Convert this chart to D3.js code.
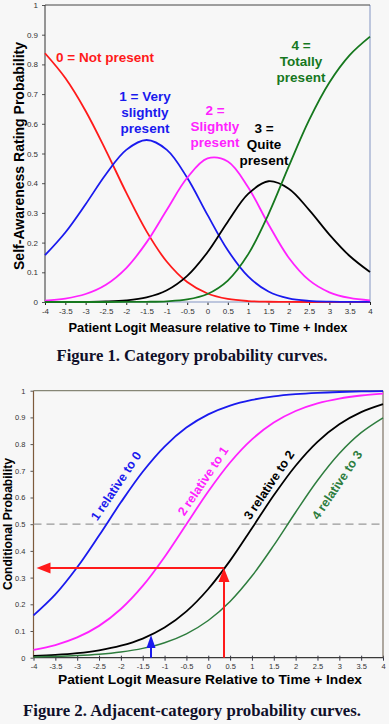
<!DOCTYPE html>
<html>
<head>
<meta charset="utf-8">
<script src="https://cdn.jsdelivr.net/npm/d3@7"></script>
<style>
  body { margin: 0; background: #f7f7f7; }
  svg { display: block; }
  .tick text { font-family: "Liberation Sans", Arial, sans-serif; fill: #333; }
</style>
</head>
<body>
<svg width="389" height="724"></svg>
<script>
// logit measure, shared by both figures
const measures = [-4, -3.5, -3, -2.5, -2, -1.5, -1, -0.5, 0, 0.5, 1, 1.5, 2, 2.5, 3, 3.5, 4];

// Figure 1: category probabilities
const cat0 = [0.8376, 0.7541, 0.6433, 0.5099, 0.3682, 0.2378, 0.1354, 0.0671, 0.0285, 0.0103, 0.0031, 0.0008, 0.0002, 0.0000, 0, 0, 0];
const cat1 = [0.1576, 0.2341, 0.3292, 0.4302, 0.5121, 0.5454, 0.5121, 0.4182, 0.2933, 0.1741, 0.0862, 0.0354, 0.0122, 0.0037, 0.0010, 0.0003, 0.0001];
const cat2 = [0.0048, 0.0117, 0.0270, 0.0582, 0.1143, 0.2007, 0.3106, 0.4182, 0.4835, 0.4732, 0.3864, 0.2619, 0.1491, 0.0735, 0.0326, 0.0135, 0.0053];
const cat3 = [0.0000, 0.0001, 0.0005, 0.0017, 0.0054, 0.0155, 0.0396, 0.0879, 0.1675, 0.2703, 0.3639, 0.4066, 0.3816, 0.3103, 0.2271, 0.1549, 0.1010];
const cat4 = [0, 0, 0, 0, 0.0001, 0.0006, 0.0024, 0.0086, 0.0271, 0.0722, 0.1603, 0.2953, 0.4569, 0.6125, 0.7392, 0.8313, 0.8936];

// Figure 2: adjacent-category conditional probabilities
const adj1 = [0.1584, 0.2369, 0.3385, 0.4576, 0.5818, 0.6964, 0.7908, 0.8618, 0.9113, 0.9443, 0.9654, 0.9788, 0.9870, 0.9921, 0.9952, 0.9971, 0.9982];
const adj2 = [0.0293, 0.0474, 0.0759, 0.1192, 0.1824, 0.2689, 0.3775, 0.5000, 0.6225, 0.7311, 0.8176, 0.8808, 0.9241, 0.9526, 0.9707, 0.9820, 0.9890];
const adj3 = [0.0063, 0.0104, 0.0170, 0.0277, 0.0448, 0.0717, 0.1130, 0.1736, 0.2573, 0.3635, 0.4850, 0.6083, 0.7191, 0.8085, 0.8744, 0.9198, 0.9498];
const adj4 = [0.0030, 0.0049, 0.0080, 0.0131, 0.0215, 0.0349, 0.0563, 0.0895, 0.1394, 0.2108, 0.3058, 0.4207, 0.5449, 0.6637, 0.7649, 0.8429, 0.8985];

// arrows in figure 2: [measure, probability]
const redArrow = [0.36, 0.336];
const blueArrow = [-1.31, 0.085];
const refLine = 0.5;

const xTicks = [-4, -3.5, -3, -2.5, -2, -1.5, -1, -0.5, 0, 0.5, 1, 1.5, 2, 2.5, 3, 3.5, 4];
const yTicks = [0, 0.1, 0.2, 0.3, 0.4, 0.5, 0.6, 0.7, 0.8, 0.9, 1];

const svg = d3.select("svg");
const sans = "'Liberation Sans', Arial, sans-serif";
const serif = "'Liberation Serif', 'Times New Roman', serif";

function zip(ys) {
  return measures.map((m, i) => [m, ys[i]]);
}

// ---------------- Figure 1 ----------------
const x1 = d3.scaleLinear().domain([-4, 4]).range([45, 370]);
const y1 = d3.scaleLinear().domain([0, 1]).range([302, 5]);

const g1 = svg.append("g");

g1.append("g")
  .attr("transform", "translate(0,302)")
  .call(d3.axisBottom(x1).tickValues(xTicks).tickSize(3).tickPadding(3).tickFormat(d => String(d)))
  .call(g => g.select(".domain").remove())
  .call(g => g.selectAll(".tick line").attr("stroke", "#222"))
  .call(g => g.selectAll(".tick text").attr("font-size", 8));

g1.append("g")
  .attr("transform", "translate(45,0)")
  .call(d3.axisLeft(y1).tickValues(yTicks).tickSize(3).tickPadding(4).tickFormat(d => String(Math.round(d * 10) / 10)))
  .call(g => g.select(".domain").remove())
  .call(g => g.selectAll(".tick line").attr("stroke", "#555"))
  .call(g => g.selectAll(".tick text").attr("font-size", 8));

// frame
g1.append("line").attr("x1", 370).attr("x2", 370).attr("y1", 5).attr("y2", 302).attr("stroke", "#aab6d4").attr("stroke-width", 1.5);
g1.append("line").attr("x1", 45).attr("x2", 370).attr("y1", 302).attr("y2", 302).attr("stroke", "#aab6d4").attr("stroke-width", 1.5);
g1.append("line").attr("x1", 45).attr("x2", 370).attr("y1", 5).attr("y2", 5).attr("stroke", "#444").attr("stroke-width", 1);
g1.append("line").attr("x1", 45).attr("x2", 45).attr("y1", 5).attr("y2", 302).attr("stroke", "#333").attr("stroke-width", 1);

const line1 = d3.line()
  .x(d => x1(d[0]))
  .y(d => y1(d[1]))
  .curve(d3.curveCatmullRom.alpha(0.5));

const series1 = [
  { vals: cat0, color: "#ff1a1a" },
  { vals: cat1, color: "#1a1aee" },
  { vals: cat2, color: "#ff22ff" },
  { vals: cat3, color: "#000000" },
  { vals: cat4, color: "#16781e" }
];

g1.selectAll(".cat")
  .data(series1)
  .enter().append("path")
  .attr("class", "cat")
  .attr("fill", "none")
  .attr("stroke", d => d.color)
  .attr("stroke-width", 1.8)
  .attr("d", d => line1(zip(d.vals)));

const labels1 = [
  { lines: ["0 = Not present"], x: 56, y: 62, anchor: "start", color: "#ff1a1a" },
  { lines: ["1 = Very", "slightly", "present"], x: 145, y: 101, anchor: "middle", color: "#1a1aee" },
  { lines: ["2 =", "Slightly", "present"], x: 215, y: 115, anchor: "middle", color: "#ff22ff" },
  { lines: ["3 =", "Quite", "present"], x: 264, y: 133, anchor: "middle", color: "#000" },
  { lines: ["4 =", "Totally", "present"], x: 301, y: 50, anchor: "middle", color: "#16781e" }
];

labels1.forEach(l => {
  const t = g1.append("text")
    .attr("x", l.x).attr("y", l.y)
    .attr("text-anchor", l.anchor)
    .attr("font-family", sans)
    .attr("font-weight", "bold")
    .attr("font-size", 13.5)
    .attr("fill", l.color);
  l.lines.forEach((s, i) => {
    t.append("tspan").attr("x", l.x).attr("dy", i === 0 ? 0 : 16).text(s);
  });
});

g1.append("text")
  .attr("x", 208).attr("y", 332)
  .attr("text-anchor", "middle")
  .attr("font-family", sans).attr("font-weight", "bold").attr("font-size", 13.5)
  .attr("textLength", 279).attr("lengthAdjust", "spacingAndGlyphs")
  .text("Patient Logit Measure relative to Time + Index");

g1.append("text")
  .attr("transform", "translate(24,156) rotate(-90)")
  .attr("text-anchor", "middle")
  .attr("font-family", sans).attr("font-weight", "bold").attr("font-size", 14.5)
  .attr("textLength", 228).attr("lengthAdjust", "spacingAndGlyphs")
  .text("Self-Awareness Rating Probability");

g1.append("text")
  .attr("x", 192).attr("y", 361)
  .attr("text-anchor", "middle")
  .attr("font-family", serif).attr("font-weight", "bold").attr("font-size", 17)
  .attr("textLength", 271).attr("lengthAdjust", "spacingAndGlyphs")
  .attr("fill", "#10102a")
  .text("Figure 1. Category probability curves.");

// ---------------- Figure 2 ----------------
const x2 = d3.scaleLinear().domain([-4, 4]).range([33.5, 383]);
const y2 = d3.scaleLinear().domain([0, 1]).range([657.7, 390.7]);

const g2 = svg.append("g");

g2.append("g")
  .attr("transform", "translate(0,657.7)")
  .call(d3.axisBottom(x2).tickValues(xTicks).tickSize(3).tickPadding(3).tickFormat(d => String(d)))
  .call(g => g.select(".domain").remove())
  .call(g => g.selectAll(".tick line").attr("stroke", "#334").attr("y1", -2))
  .call(g => g.selectAll(".tick text").attr("font-size", 7.5));

g2.append("g")
  .attr("transform", "translate(33.5,0)")
  .call(d3.axisLeft(y2).tickValues(yTicks).tickSize(3).tickPadding(5).tickFormat(d => String(Math.round(d * 10) / 10)))
  .call(g => g.select(".domain").remove())
  .call(g => g.selectAll(".tick line").attr("stroke", "#555").attr("x2", 0).attr("x1", -3))
  .call(g => g.selectAll(".tick text").attr("font-size", 7.5));

g2.append("line").attr("x1", 33.5).attr("x2", 383).attr("y1", 390.7).attr("y2", 390.7).attr("stroke", "#868676").attr("stroke-width", 1.2);
g2.append("line").attr("x1", 383).attr("x2", 383).attr("y1", 390.7).attr("y2", 657.7).attr("stroke", "#7d7264").attr("stroke-width", 1.2);
g2.append("line").attr("x1", 33.5).attr("x2", 383).attr("y1", 657.7).attr("y2", 657.7).attr("stroke", "#3a3a3a").attr("stroke-width", 1.2);
g2.append("line").attr("x1", 33.5).attr("x2", 33.5).attr("y1", 390.7).attr("y2", 657.7).attr("stroke", "#7d5a3c").attr("stroke-width", 1.2);

// 0.5 reference
g2.append("line")
  .attr("x1", x2(-4)).attr("x2", x2(4))
  .attr("y1", y2(refLine)).attr("y2", y2(refLine))
  .attr("stroke", "#999").attr("stroke-width", 1.2)
  .attr("stroke-dasharray", "8,5");

const line2 = d3.line()
  .x(d => x2(d[0]))
  .y(d => y2(d[1]))
  .curve(d3.curveCatmullRom.alpha(0.5));

const series2 = [
  { vals: adj1, color: "#1a1aee", w: 1.8, label: "1 relative to 0", lx: 116, ly: 486 },
  { vals: adj2, color: "#ff22ff", w: 1.8, label: "2 relative to 1", lx: 203, ly: 481 },
  { vals: adj3, color: "#000000", w: 1.8, label: "3 relative to 2", lx: 269, ly: 485 },
  { vals: adj4, color: "#2e7d3e", w: 1.5, label: "4 relative to 3", lx: 337, ly: 485 }
];

g2.selectAll(".adj")
  .data(series2)
  .enter().append("path")
  .attr("class", "adj")
  .attr("fill", "none")
  .attr("stroke", d => d.color)
  .attr("stroke-width", d => d.w)
  .attr("d", d => line2(zip(d.vals)));

g2.selectAll(".adjlabel")
  .data(series2)
  .enter().append("text")
  .attr("class", "adjlabel")
  .attr("transform", d => "translate(" + d.lx + "," + d.ly + ") rotate(-56)")
  .attr("text-anchor", "middle")
  .attr("dy", "0.35em")
  .attr("font-family", sans).attr("font-weight", "bold").attr("font-size", 12.5)
  .attr("fill", d => d.color)
  .text(d => d.label);

// red arrows
const rx = x2(redArrow[0]), ry = y2(redArrow[1]);
g2.append("line")
  .attr("x1", rx).attr("x2", rx).attr("y1", y2(0)).attr("y2", ry + 12)
  .attr("stroke", "#ff1a1a").attr("stroke-width", 2);
g2.append("path")
  .attr("d", "M" + rx + "," + ry + "L" + (rx - 5.5) + "," + (ry + 14) + "L" + (rx + 5.5) + "," + (ry + 14) + "Z")
  .attr("fill", "#ff1a1a");
const lx = x2(-4) + 3;
g2.append("line")
  .attr("x1", rx).attr("x2", lx + 12).attr("y1", ry).attr("y2", ry)
  .attr("stroke", "#ff1a1a").attr("stroke-width", 2);
g2.append("path")
  .attr("d", "M" + lx + "," + ry + "L" + (lx + 14) + "," + (ry - 5.5) + "L" + (lx + 14) + "," + (ry + 5.5) + "Z")
  .attr("fill", "#ff1a1a");

// blue arrow
const bx = x2(blueArrow[0]), by = y2(blueArrow[1]);
g2.append("line")
  .attr("x1", bx).attr("x2", bx).attr("y1", y2(0)).attr("y2", by + 10)
  .attr("stroke", "#1a1aee").attr("stroke-width", 2);
g2.append("path")
  .attr("d", "M" + bx + "," + by + "L" + (bx - 4.5) + "," + (by + 13) + "L" + (bx + 4.5) + "," + (by + 13) + "Z")
  .attr("fill", "#1a1aee");

g2.append("text")
  .attr("x", 210).attr("y", 684)
  .attr("text-anchor", "middle")
  .attr("font-family", sans).attr("font-weight", "bold").attr("font-size", 13.5)
  .attr("textLength", 304).attr("lengthAdjust", "spacingAndGlyphs")
  .text("Patient Logit Measure Relative to Time + Index");

g2.append("text")
  .attr("transform", "translate(12,524) rotate(-90)")
  .attr("text-anchor", "middle")
  .attr("font-family", sans).attr("font-weight", "bold").attr("font-size", 13.5)
  .attr("textLength", 132).attr("lengthAdjust", "spacingAndGlyphs")
  .text("Conditional Probability");

g2.append("text")
  .attr("x", 192).attr("y", 716)
  .attr("text-anchor", "middle")
  .attr("font-family", serif).attr("font-weight", "bold").attr("font-size", 17)
  .attr("textLength", 338).attr("lengthAdjust", "spacingAndGlyphs")
  .attr("fill", "#10102a")
  .text("Figure 2. Adjacent-category probability curves.");
</script>
</body>
</html>
